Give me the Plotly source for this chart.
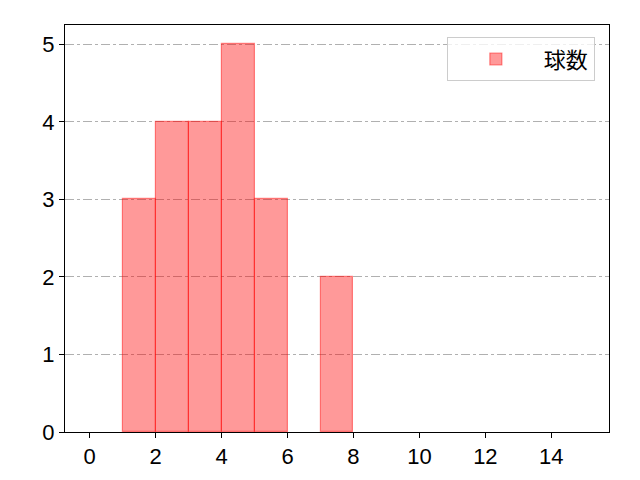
import plotly.graph_objects as go

# histogram bins (left edges), width 1
bin_left = [1, 2, 3, 4, 5, 7]
counts = [3, 4, 4, 5, 3, 2]
x_ticks = [0, 2, 4, 6, 8, 10, 12, 14]
y_ticks = [0, 1, 2, 3, 4, 5]

font = "Noto Sans CJK JP, DejaVu Sans, sans-serif"
tick_font = "Liberation Sans, Arial, sans-serif"

fig = go.Figure()
fig.add_trace(go.Bar(
    x=bin_left, y=counts, width=1, offset=0, name="球数",
    marker=dict(color="rgba(255,0,0,0.4)", line=dict(color="rgba(255,0,0,0.45)", width=1.2)),
    showlegend=True,
))

# page body has an 8px margin, so margins are shifted to compensate
fig.update_layout(
    width=640, height=480,
    margin=dict(l=57, r=39, t=17, b=56),
    plot_bgcolor="white", paper_bgcolor="white",
    font=dict(family=font, size=22, color="black"),
    bargap=0,
    legend=dict(x=0.974, y=0.97, xanchor="right", yanchor="top",
                bordercolor="#cccccc", borderwidth=1, bgcolor="rgba(255,255,255,0.8)",
                itemwidth=86, font=dict(size=22)),
)
fig.update_xaxes(
    range=[-0.75, 15.75], tickvals=x_ticks, showgrid=False, zeroline=False,
    showline=True, linecolor="black", linewidth=1, mirror=True,
    ticks="outside", ticklen=5, tickcolor="black",
    tickfont=dict(family=tick_font, size=22),
)
fig.update_yaxes(
    range=[0, 5.25], tickvals=y_ticks, showgrid=True, gridcolor="#b0b0b0",
    griddash="dashdot", gridwidth=1, zeroline=False, layer="above traces",
    showline=True, linecolor="black", linewidth=1, mirror=True,
    ticks="outside", ticklen=5, tickcolor="black",
    tickfont=dict(family=tick_font, size=22),
)

fig.write_html("out.html")
